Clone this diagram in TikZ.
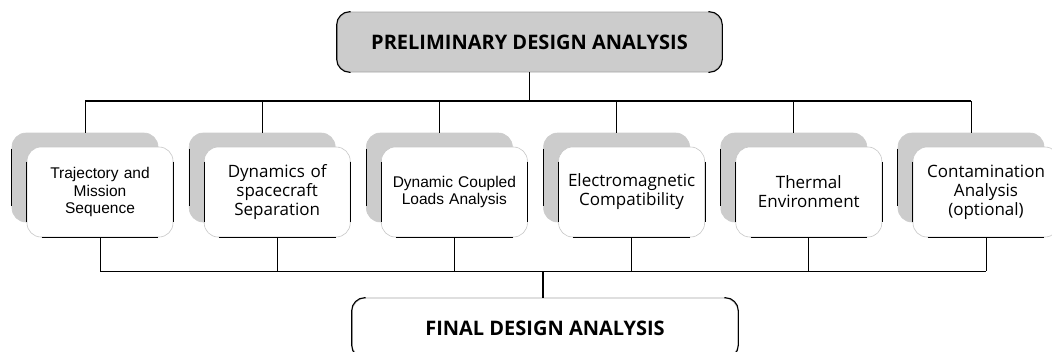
\documentclass[tikz,border=0pt]{standalone}
\usepackage{fontspec}
\newfontfamily\arialf{Liberation Sans}
\newfontfamily\frutf{Open Sans}
\begin{document}
\begin{tikzpicture}[x=1pt,y=-1pt,
  shadowbox/.style={rectangle,rounded corners=14pt,fill=black!20,draw=black!20,line width=0.6pt,
    minimum width=146pt,minimum height=89pt,inner sep=0pt},
  frontbox/.style={rectangle,rounded corners=14pt,fill=white,draw=black!22,line width=0.6pt,
    minimum width=146pt,minimum height=90pt,inner sep=0pt,align=center,text width=144pt},
  titlebox/.style={rectangle,rounded corners=14pt,draw=black!35,line width=0.6pt,
    minimum width=385pt,minimum height=60pt,inner sep=0pt,
    font=\frutf\bfseries\fontsize{20}{23}\selectfont},
  edge/.style={line width=1.1pt,black},
  thin/.style={line width=0.8pt,black},
  bus/.style={line width=1.4pt,black},
  arialtxt/.style={font=\arialf\fontsize{15.5}{17.5}\selectfont},
  frut/.style={font=\frutf\fontsize{17}{19}\selectfont}
]
\clip (0,0) rectangle (1052,351);
\fill[white] (0,0) rectangle (1052,351);

% top box
\node[titlebox,fill=black!20] (top) at (529.5,42) {PRELIMINARY DESIGN ANALYSIS};
\draw[edge,rounded corners=13pt] ([xshift=14pt]top.north west) -- (top.north west) -- (top.south west) -- ([xshift=14pt]top.south west);
\draw[edge,rounded corners=13pt] ([xshift=-14pt]top.north east) -- (top.north east) -- (top.south east) -- ([xshift=-14pt]top.south east);

% bottom box
\node[titlebox,fill=white,minimum width=386pt] (bot) at (545,328) {FINAL DESIGN ANALYSIS};
\draw[edge,rounded corners=13pt] ([xshift=14pt]bot.north west) -- (bot.north west) -- (bot.south west) -- ([xshift=14pt]bot.south west);
\draw[edge,rounded corners=13pt] ([xshift=-14pt]bot.north east) -- (bot.north east) -- (bot.south east) -- ([xshift=-14pt]bot.south east);

% bus coordinates
\coordinate (tb) at (529.5,101);
\coordinate (bb) at (543,271);

\foreach \i/\txt/\sty in {0/{Trajectory and\\Mission\\Sequence}/arialtxt,
                          1/{Dynamics of\\spacecraft\\Separation}/frut,
                          2/{Dynamic Coupled\\Loads Analysis}/arialtxt,
                          3/{Electromagnetic\\Compatibility}/frut,
                          4/{Thermal\\Environment}/frut,
                          5/{Contamination\\Analysis\\(optional)}/frut}{
  \pgfmathsetmacro{\xg}{85+177.2*\i}
  \pgfmathsetmacro{\xw}{100+177.2*\i}
  \node[shadowbox] (g\i) at (\xg,177.5) {};
  \draw[thin] ([yshift=-16pt]g\i.north west) -- ([yshift=16pt]g\i.south west);
  \node[frontbox,\sty] (w\i) at (\xw,192) {\txt};
  \draw[thin] ([yshift=-15pt]w\i.north west) -- ([yshift=15pt]w\i.south west);
  \draw[thin] ([yshift=-15pt]w\i.north east) -- ([yshift=15pt]w\i.south east);
  \draw[thin] ([xshift=15pt]w\i.south west) -- ([xshift=-15pt]w\i.south east);
  \draw[thin] (g\i.north) -- (g\i.north |- tb);
  \draw[thin] (w\i.south) -- (w\i.south |- bb);
}

\draw[bus] (g0.north |- tb) -- (g5.north |- tb);
\draw[bus] (top.south) -- (tb);
\draw[thin] (w0.south |- bb) -- (w5.south |- bb);
\draw[bus] (bb) -- (bb |- bot.north);
\end{tikzpicture}
\end{document}
